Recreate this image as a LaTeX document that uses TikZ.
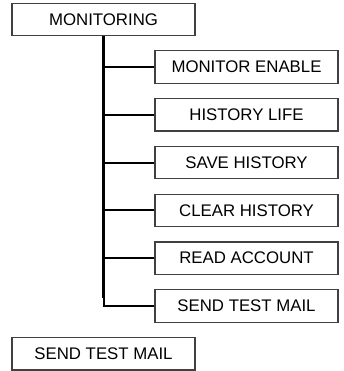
\documentclass[tikz,border=0pt]{standalone}
\usepackage{fontspec}
\setmainfont{Liberation Sans}
\usepackage{tikz}
\usetikzlibrary{positioning}

\begin{document}
\begin{tikzpicture}[
  x=1pt, y=1pt,
  node distance=14.2pt,
  box/.style={
    draw=black!75, line width=1.1pt, fill=white,
    minimum width=183pt, minimum height=32.5pt,
    inner sep=0pt, align=center, font=\fontsize{16.8}{19}\selectfont
  },
  trunk/.style={line width=2.6pt, black},
  branch/.style={line width=2pt, black}
]
\useasboundingbox (0,0) rectangle (343,-371);

% Boxes
\node[box] (monitoring) at (103.5,-19.5) {MONITORING};
\node[box] (enable) at (246.5,-67) {MONITOR ENABLE};
\node[box, below=of enable] (life) {HISTORY LIFE};
\node[box, below=of life] (save) {SAVE HISTORY};
\node[box, below=of save] (clear) {CLEAR HISTORY};
\node[box, below=of clear] (account) {READ ACCOUNT};
\node[box, below=of account] (testmail) {SEND TEST MAIL};
\node[box] (sendmail) at (103.5,-353.7) {SEND TEST MAIL};

% Connectors
\coordinate (corner) at (monitoring.south |- testmail.west);
\draw[trunk] (monitoring.south) -- ([yshift=8pt]corner);
\draw[branch, line join=miter] ([yshift=9pt]corner) -- (corner) -- (testmail.west);
\foreach \child in {enable, life, save, clear, account}
  \draw[branch] (monitoring.south |- \child.west) -- (\child.west);

\end{tikzpicture}
\end{document}
